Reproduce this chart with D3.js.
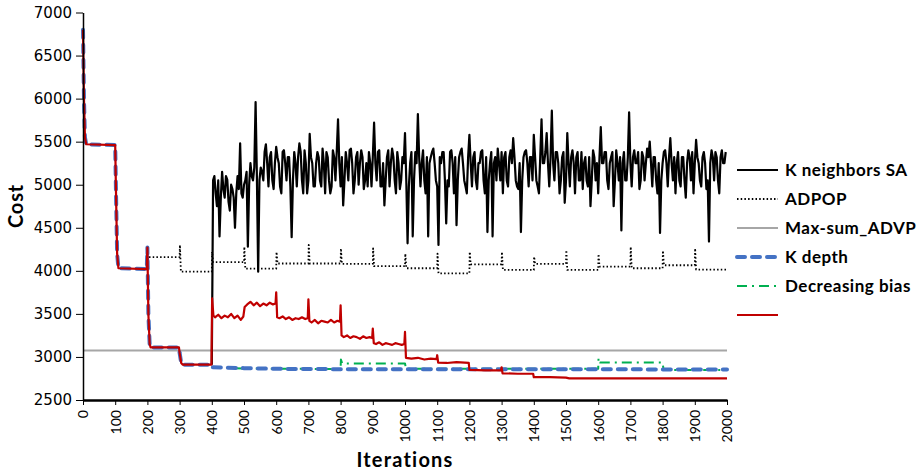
<!DOCTYPE html>
<html>
<head>
<meta charset="utf-8">
<script src="https://cdn.jsdelivr.net/npm/d3@7"></script>
<style>
body { margin: 0; background: #fff; }
.axis path, .axis line { stroke: #000; }
</style>
</head>
<body>
<script>
// tick values
var xTicks = [0,100,200,300,400,500,600,700,800,900,1000,1100,1200,1300,1400,1500,1600,1700,1800,1900,2000];
var yTicks = [2500,3000,3500,4000,4500,5000,5500,6000,6500,7000];

// K neighbors SA : sampled every 4 iterations from 400
var saStart = 400, saStep = 4;
var saCost = [
  2910,5050,5100,4900,4750,5050,4400,4850,5150,4950,4850,5100,5060,4800,4700,5000,4950,4850,4500,4900,
  5100,4950,5480,4900,4850,5000,5050,5150,4280,5000,5250,5100,5050,5200,5960,5100,3990,5050,5200,5150,
  5050,5380,5470,5250,4980,5320,5380,5050,4950,5250,5440,5320,5250,4980,4900,5380,5400,5250,5050,5320,
  5320,4980,4390,5050,5380,5250,4980,5320,5480,5380,5050,4900,5400,5250,4900,5050,5590,5320,5250,4980,
  4980,5250,5380,5320,5050,4980,5420,5250,4900,5380,5320,5050,4900,4980,5400,5320,5050,5380,5760,5250,
  4980,5320,4760,5050,5380,5250,5050,5400,5420,5250,4900,5050,5320,5380,5000,5250,5400,5320,4950,5050,
  5250,4980,5380,5250,4980,5320,5720,5250,5050,5380,5400,4980,4980,5250,4760,5050,5320,5400,4980,5250,
  5420,5320,5050,4900,5380,5250,4950,5050,5320,5250,5600,5050,4320,4980,5250,5380,4400,5050,5380,5250,
  5820,5320,4980,5250,5400,5050,4900,5320,4400,5250,5320,5380,5420,5250,5050,4980,4300,5320,5250,5380,
  5380,5050,4550,5050,4980,5380,5400,5250,4900,5320,4530,5050,5320,5380,5420,5250,5050,4980,4900,5320,
  5580,5250,4980,5320,5380,5050,4950,5250,5250,5380,5400,5050,4900,5320,4450,5050,5250,5380,4400,5250,
  5320,5050,5420,5250,5050,5380,4900,5320,5380,5050,4980,5320,5400,5250,5540,5320,5050,4980,4950,5250,
  4450,5050,5320,5380,5400,5250,4980,5320,5320,5050,5580,5320,5050,4980,4900,5320,5760,5250,5250,5380,
  5600,5250,4980,5320,5860,5250,5050,5380,5380,5250,4900,5050,5320,5380,4790,5050,5600,5250,4980,5320,
  5400,5250,4900,5320,5380,5050,5050,5380,4950,5250,5320,5050,4980,5320,4750,5050,5400,5320,5050,5250,
  4900,5320,5670,5250,5250,5380,5380,5050,4950,5250,5320,5380,4750,5050,5400,5250,5050,5320,4470,5250,
  5380,5050,5050,5320,5840,5250,4980,5320,5400,5250,5250,5380,4950,5050,5380,5320,5050,5250,5420,5320,
  5500,5250,4980,5320,5320,5050,4900,5250,4440,5050,5250,5380,5400,5250,4980,5320,5540,5250,5050,5320,
  4900,5250,5380,5050,4980,5320,5320,5050,4850,5250,5400,5320,5050,5380,4900,5250,5520,5320,5250,5050,
  4980,5320,5380,5250,4950,5050,4340,5250,5400,5320,5050,5380,5320,5050,4900,5320,5400,5250,5250,5380
];

// ADPOP
var adpopIter = [205,300,301,304,400,401,404,500,501,504,600,601,604,700,701,704,800,801,804,900,901,904,
  1000,1001,1004,1100,1101,1104,1200,1201,1204,1300,1301,1304,1400,1401,1404,1500,1501,1504,
  1600,1601,1604,1700,1701,1704,1800,1801,1804,1900,1901,1904,2000];
var adpopCost = [4160,4160,4300,3990,3990,4220,4100,4100,4280,4025,4025,4220,4085,4085,4300,4085,4085,4260,4080,4080,4260,4055,
  4055,4200,4030,4030,4200,3970,3970,4220,4075,4075,4220,4010,4010,4165,4080,4080,4240,4010,
  4010,4195,4050,4050,4280,4030,4030,4235,4065,4065,4260,4015,4015];

// Max-sum_ADVP
var maxsumIter = [0,2000];
var maxsumCost = [3075,3075];

// K depth
var kdepthIter = [0,3,6,10,100,103,106,110,198,200,203,207,210,298,300,305,310,399,402,500,600,800,2000];
var kdepthCost = [6800,6000,5550,5470,5460,4800,4200,4030,4020,4270,3500,3150,3110,3110,3050,2930,2910,2910,2880,2870,2862,2858,2855];

// Decreasing bias
var biasIter = [400,500,800,801,805,1000,1003,1600,1601,1605,1800,1803,2000];
var biasCost = [2880,2865,2860,2970,2925,2925,2862,2862,2985,2935,2935,2848,2848];

// unnamed red series
var redIter = [0,3,6,10,100,103,106,110,198,200,203,207,210,298,300,305,310,399,401,405,
  410,420,430,440,450,460,470,480,490,498,502,510,520,530,540,550,560,570,580,590,598,
  600,603,610,620,630,640,650,660,670,680,690,698,700,703,710,720,730,740,750,760,770,780,790,798,
  800,803,810,820,830,840,850,860,870,880,890,898,900,903,910,920,930,940,950,960,970,980,990,998,
  1000,1003,1020,1040,1060,1080,1098,1100,1103,1130,1160,1198,1200,1250,1298,1300,1303,1350,1398,
  1400,1450,1500,1510,2000];
var redCost = [6800,6000,5550,5470,5460,4800,4200,4030,4020,4270,3500,3150,3110,3110,3050,2930,2910,2910,3680,3480,
  3460,3490,3450,3480,3460,3500,3450,3480,3430,3470,3580,3610,3640,3600,3630,3590,3620,3600,3630,3610,3620,
  3750,3460,3450,3470,3440,3460,3430,3450,3440,3460,3440,3450,3670,3420,3400,3430,3390,3420,3410,3400,3430,3400,3420,3410,
  3600,3250,3230,3250,3220,3240,3230,3210,3240,3220,3230,3220,3330,3160,3150,3170,3140,3160,3150,3140,3160,3150,3140,3150,
  3290,2990,2980,2990,2970,2980,2975,3020,2935,2930,2940,2930,2850,2845,2845,2880,2810,2805,2805,
  2765,2765,2760,2752,2750];

var legendNames = ["K neighbors SA", "ADPOP", "Max-sum_ADVP", "K depth", "Decreasing bias", ""];

var width = 921, height = 474;
var svg = d3.select("body").append("svg")
    .attr("width", width)
    .attr("height", height);

var xScale = d3.scaleLinear().domain([0, 2000]).range([83, 727]);
var yScale = d3.scaleLinear().domain([2500, 7000]).range([400, 12.5]);

function pairs(xs, ys) {
    return xs.map(function(x, i) { return [x, ys[i]]; });
}
var saData = saCost.map(function(c, i) { return [saStart + i * saStep, c]; });

var line = d3.line()
    .x(function(d) { return xScale(d[0]); })
    .y(function(d) { return yScale(d[1]); });

// styles for each series, same order as legend
var styles = [
    {color: "#000", width: 2.2, dash: null, cap: "butt"},
    {color: "#000", width: 1.8, dash: "1.5,2.2", cap: "butt"},
    {color: "#a6a6a6", width: 2, dash: null, cap: "butt"},
    {color: "#4472c4", width: 4, dash: "8,7", cap: "round"},
    {color: "#00b050", width: 2, dash: "10,5,2,5", cap: "butt"},
    {color: "#c00000", width: 2.2, dash: null, cap: "butt"}
];

var series = [
    {data: pairs(maxsumIter, maxsumCost), s: 2},
    {data: pairs(adpopIter, adpopCost), s: 1},
    {data: saData, s: 0},
    {data: pairs(biasIter, biasCost), s: 4},
    {data: pairs(kdepthIter, kdepthCost), s: 3},
    {data: pairs(redIter, redCost), s: 5}
];

series.forEach(function(sr) {
    var st = styles[sr.s];
    svg.append("path")
        .datum(sr.data)
        .attr("fill", "none")
        .attr("stroke", st.color)
        .attr("stroke-width", st.width)
        .attr("stroke-dasharray", st.dash)
        .attr("stroke-linecap", st.cap)
        .attr("stroke-linejoin", "round")
        .attr("d", line);
});

// axes
var yAxis = d3.axisLeft(yScale).tickValues(yTicks).tickFormat(d3.format("d"))
    .tickSize(7).tickPadding(4).tickSizeOuter(0);
var gY = svg.append("g")
    .attr("class", "axis")
    .attr("transform", "translate(83,0)")
    .call(yAxis);
gY.select(".domain").attr("stroke-width", 1.5);
gY.selectAll("text")
    .attr("font-family", "DejaVu Sans")
    .attr("font-size", "15px")
    .attr("fill", "#000");

var xAxis = d3.axisBottom(xScale).tickValues(xTicks).tickFormat(d3.format("d"))
    .tickSize(5).tickSizeOuter(0);
var gX = svg.append("g")
    .attr("class", "axis")
    .attr("transform", "translate(0,400)")
    .call(xAxis);
gX.select(".domain").attr("stroke-width", 2.5);
gX.selectAll("text")
    .attr("font-family", "Lato")
    .attr("font-size", "14px")
    .attr("fill", "#000")
    .attr("transform", "rotate(-90)")
    .attr("x", -10)
    .attr("y", 0)
    .attr("dy", "0.35em")
    .style("text-anchor", "end");

// axis titles
svg.append("text")
    .attr("x", 405)
    .attr("y", 467)
    .attr("text-anchor", "middle")
    .attr("font-family", "Lato")
    .attr("font-weight", "bold")
    .attr("font-size", "20px")
    .attr("letter-spacing", "1.2px")
    .text("Iterations");

svg.append("text")
    .attr("transform", "translate(23,206) rotate(-90)")
    .attr("text-anchor", "middle")
    .attr("font-family", "Lato")
    .attr("font-weight", "bold")
    .attr("font-size", "20px")
    .attr("letter-spacing", "0.8px")
    .text("Cost");

// legend
var legend = svg.append("g");
legendNames.forEach(function(name, i) {
    var st = styles[i];
    var y = 170 + i * 29;
    legend.append("line")
        .attr("x1", 737).attr("x2", 778)
        .attr("y1", y).attr("y2", y)
        .attr("stroke", st.color)
        .attr("stroke-width", st.width)
        .attr("stroke-dasharray", st.dash)
        .attr("stroke-linecap", st.cap);
    legend.append("text")
        .attr("x", 785)
        .attr("y", y)
        .attr("dy", "0.35em")
        .attr("font-family", "Lato")
        .attr("font-weight", "bold")
        .attr("font-size", "17px")
        .attr("letter-spacing", "0.5px")
        .text(name);
});
</script>
</body>
</html>
